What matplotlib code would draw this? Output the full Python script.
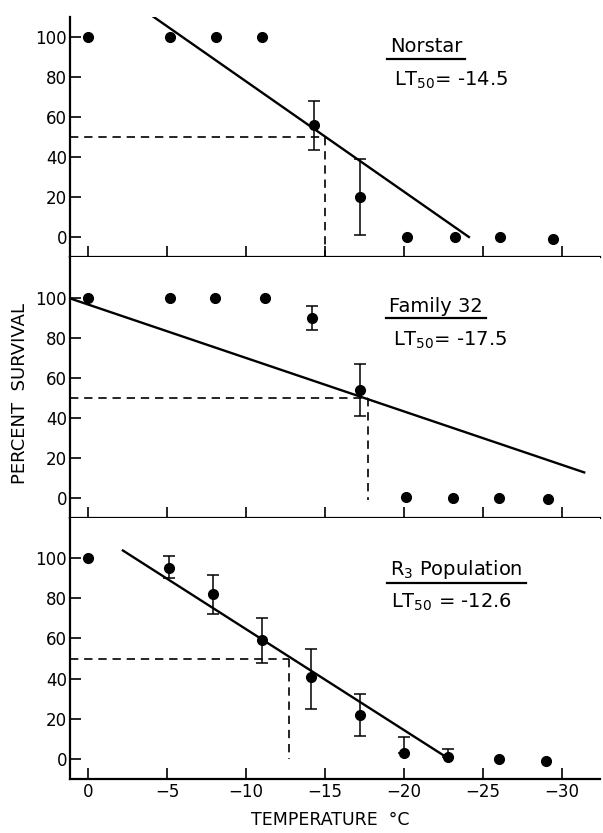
import numpy as np
import matplotlib
matplotlib.use('Agg')
import matplotlib.pyplot as plt

# Norstar
nor_t = [0, -5.2, -8.1, -11.0, -14.3, -17.2, -20.2, -23.2, -26.1, -29.4]
nor_s = [100, 100, 100, 100, 56, 20, 0, 0, 0, -1]
nor_lo = [0, 0, 0, 0, 12.5, 19, 0, 0, 0, 0]
nor_hi = [0, 0, 0, 0, 12, 19, 0, 0, 0, 0]
nor_fit_t = [-4.1, -24.1]
nor_fit_s = [110.3, 0]
nor_lt = -15.0

# Family 32
fam_t = [0, -5.2, -8.0, -11.2, -14.2, -17.2, -20.1, -23.1, -26.0, -29.1]
fam_s = [100, 100, 100, 100, 90, 54, 0.5, 0, 0, -0.5]
fam_lo = [0, 0, 0, 0, 6, 13, 0, 0, 0, 0]
fam_hi = [0, 0, 0, 0, 6, 13, 0, 0, 0, 0]
fam_fit_t = [1.15, -31.4]
fam_fit_s = [99.8, 12.8]
fam_lt = -17.7

# R3 population
r3_t = [0, -5.1, -7.9, -11.0, -14.1, -17.2, -20.0, -22.8, -26.0, -29.0]
r3_s = [100, 95, 82, 59, 41, 22, 3, 1, 0, -1]
r3_lo = [0, 5, 10, 11, 16, 10.5, 0, 0, 0, 0]
r3_hi = [0, 6, 9.5, 11, 14, 10.5, 8, 4, 0, 0]
r3_fit_t = [-2.2, -22.65]
r3_fit_s = [103.8, 1]
r3_lt = -12.7

names = ['Norstar', 'Family 32', r'R$_3$ Population']
lt_labels = [r'LT$_{50}$= -14.5', r'LT$_{50}$= -17.5', r'LT$_{50}$ = -12.6']
xticks = [0, -5, -10, -15, -20, -25, -30]
yticks = [0, 20, 40, 60, 80, 100]

panels = [
    (nor_t, nor_s, nor_lo, nor_hi, nor_fit_t, nor_fit_s, nor_lt, -10),
    (fam_t, fam_s, fam_lo, fam_hi, fam_fit_t, fam_fit_s, fam_lt, -1),
    (r3_t, r3_s, r3_lo, r3_hi, r3_fit_t, r3_fit_s, r3_lt, 0),
]
# where the labels sit (data coords)
name_pos = [(-21.4, 95), (-22.0, 95.7), (-23.3, 94.5)]
lt_pos = [(-23.0, 78.5), (-22.9, 78.7), (-23.0, 78)]

W, H = 603, 833
fig = plt.figure(figsize=(W / 100, H / 100), dpi=100)
# pixel rows: top, bottom, ymax
rows = [(17, 257, 110), (257, 518, 120.5), (518, 779, 120)]
left, right = 70, 600

axes = []
for (top, bot, ymax) in rows:
    ax = fig.add_axes([left / W, 1 - bot / H, (right - left) / W, (bot - top) / H])
    ax.set_xlim(1.15, -32.4)
    ax.set_ylim(-10, ymax)
    for sp in ['top', 'right']:
        ax.spines[sp].set_visible(False)
    for sp in ['left', 'bottom']:
        ax.spines[sp].set_linewidth(1.6)
    ax.set_xticks(xticks)
    ax.set_yticks(yticks)
    ax.tick_params(direction='in', length=8, width=1.2, labelsize=12, pad=3)
    ax.tick_params(axis='y', pad=2)
    axes.append(ax)

name_texts = []
for i, ax in enumerate(axes):
    t, s, lo, hi, ft, fs, lt, vbot = panels[i]
    t = np.array(t)
    s = np.array(s)
    lo = np.array(lo)
    hi = np.array(hi)
    ax.plot(t, s, 'o', color='black', markersize=7, zorder=4)
    m = (lo > 0) | (hi > 0)
    ax.errorbar(t[m], s[m], yerr=[lo[m], hi[m]], fmt='none', ecolor='black',
                elinewidth=1.1, capsize=4, capthick=1.1, zorder=3)
    ax.plot(ft, fs, color='black', linewidth=1.7, zorder=3)
    ax.plot([1.15, lt], [50, 50], color='black', linewidth=1.2, dashes=(5, 3.5))
    ax.plot([lt, lt], [50, vbot], color='black', linewidth=1.2, dashes=(5, 3.5))

    tx = ax.text(name_pos[i][0], name_pos[i][1], names[i], ha='center', va='center', fontsize=14)
    ax.text(lt_pos[i][0], lt_pos[i][1], lt_labels[i], ha='center', va='center', fontsize=14)
    name_texts.append(tx)

# underline the panel names
fig.canvas.draw()
r = fig.canvas.get_renderer()
for tx in name_texts:
    bb = tx.get_window_extent(r)
    x0, x1 = bb.x0 - 3, bb.x1 + 3
    y = bb.y0 - 2
    fig.add_artist(plt.Line2D([x0 / W, x1 / W], [y / H, y / H],
                              transform=fig.transFigure, color='black', linewidth=1.6))

axes[0].tick_params(labelbottom=False)
axes[1].tick_params(labelbottom=False)

fig.text(20 / W, 1 - 394 / H, 'PERCENT  SURVIVAL', rotation=90, ha='center', va='center', fontsize=13)
fig.text(330 / W, 1 - 820 / H, 'TEMPERATURE  °C', ha='center', va='center', fontsize=12.5)

plt.savefig('out.png', dpi=100)
